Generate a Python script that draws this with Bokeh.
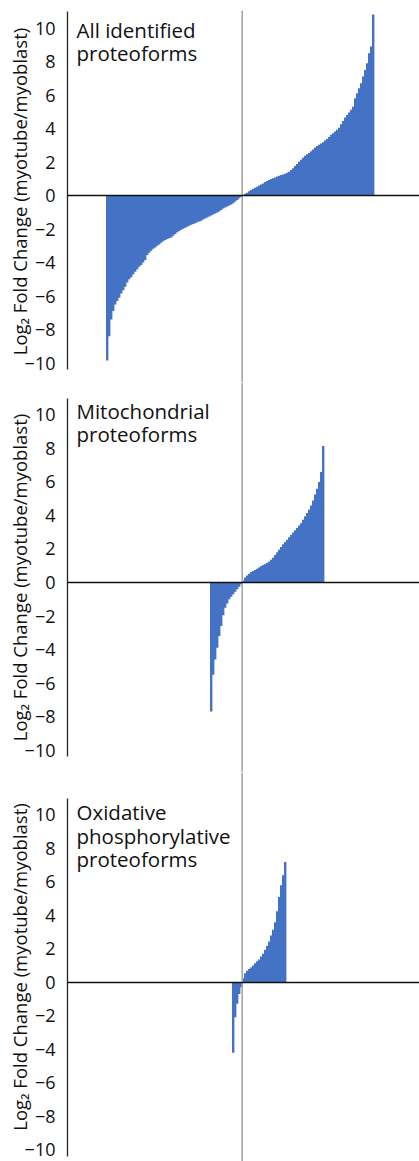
import numpy as np
from bokeh.plotting import figure
from bokeh.layouts import column
from bokeh.models import Span, Label, FixedTicker, Range1d, ColumnDataSource
from bokeh.embed import file_html
from bokeh.resources import INLINE

# ---------------- data (sorted log2 fold changes) ----------------
titles = [["All identified", "proteoforms"],
          ["Mitochondrial", "proteoforms"],
          ["Oxidative", "phosphorylative", "proteoforms"]]

all_neg = [-9.85, -8.4, -7.4, -6.9, -6.5, -6.3, -6.1, -5.85, -5.65, -5.45,
           -5.2, -5.0, -4.88, -4.7, -4.55, -4.4, -4.25, -4.15, -4.0, -3.85,
           -3.55, -3.42, -3.3, -3.18, -3.1, -3.0, -2.92, -2.82, -2.73, -2.65,
           -2.6, -2.55, -2.5, -2.4, -2.3, -2.2, -2.12, -2.05, -1.98, -1.92,
           -1.87, -1.8, -1.75, -1.7, -1.65, -1.6, -1.55, -1.5, -1.43, -1.38,
           -1.32, -1.25, -1.2, -1.14, -1.08, -1.02, -0.95, -0.86, -0.78, -0.72,
           -0.66, -0.6, -0.54, -0.46, -0.36, -0.27, -0.17, -0.07]
all_pos = [0.03, 0.1, 0.17, 0.25, 0.33, 0.4, 0.46, 0.53, 0.6, 0.66,
           0.72, 0.8, 0.86, 0.92, 0.98, 1.03, 1.08, 1.13, 1.18, 1.22,
           1.26, 1.3, 1.36, 1.42, 1.52, 1.62, 1.76, 1.88, 2.02, 2.14,
           2.26, 2.38, 2.46, 2.54, 2.64, 2.75, 2.86, 2.95, 3.03, 3.1,
           3.18, 3.28, 3.38, 3.5, 3.62, 3.72, 3.82, 3.92, 4.05, 4.25,
           4.45, 4.65, 4.8, 4.95, 5.12, 5.3, 5.8, 6.1, 6.4, 6.7,
           7.1, 7.5, 7.9, 8.5, 8.9, 10.8]

mito_neg = [-7.7, -5.5, -4.6, -3.9, -3.2, -2.6, -1.95, -1.5, -1.25, -1.0,
            -0.85, -0.7, -0.55, -0.4, -0.25, -0.1]
mito_pos = [0.12, 0.3, 0.42, 0.52, 0.62, 0.68, 0.75, 0.82, 0.9, 0.98,
            1.04, 1.1, 1.17, 1.25, 1.36, 1.48, 1.64, 1.8, 1.96, 2.12,
            2.28, 2.42, 2.55, 2.7, 2.84, 2.98, 3.12, 3.26, 3.4, 3.54,
            3.75, 3.95, 4.15, 4.35, 4.6, 4.9, 5.25, 5.6, 6.0, 6.6, 8.15]

oxphos_neg = [-4.2, -2.07, -1.27, -0.68, -0.28]
oxphos_pos = [0.25, 0.55, 0.7, 0.8, 0.9, 1.02, 1.15, 1.27, 1.38, 1.55,
              1.72, 1.95, 2.2, 2.45, 2.8, 3.15, 3.6, 4.25, 5.1, 5.8,
              6.4, 7.2]

y_ticks = [-10, -8, -6, -4, -2, 0, 2, 4, 6, 8, 10]
y_label = "Log\u2082 Fold Change (myotube/myoblast)"

# ---------------- styling / layout ----------------
FONT = "Open Sans"
BAR = "#4472C4"
GRAY = "#A6A6A6"
INK = "#111111"
W = 419
LEFT = 67
X_START = -87.35
X_END = X_START + (W - LEFT) / 2.0

panels = [
    # neg, pos, height, y_start, y_end, gray-line top, title baselines
    (all_neg, all_pos, 382, -11.164, 11.642, 11.05, [9.9, 8.5]),
    (mito_neg, mito_pos, 390, -11.343, 11.940, 11.940, [10.25, 8.85]),
    (oxphos_neg, oxphos_pos, 389, -10.687, 12.537, 12.537, [10.15, 8.76, 7.37]),
]

figs = []
for (neg, pos, h, y0, y1, gtop, tys), ttl in zip(panels, titles):
    vals = list(neg) + list(pos)
    xs = np.arange(-len(neg), len(pos)) + 0.5
    src = ColumnDataSource(dict(x=xs, top=vals))
    p = figure(width=W, height=h, output_backend="svg", toolbar_location=None,
               x_range=Range1d(X_START, X_END), y_range=Range1d(y0, y1),
               min_border_left=LEFT, min_border_right=0, min_border_top=0,
               min_border_bottom=0, x_axis_location=None)
    p.outline_line_color = None
    p.xgrid.visible = False
    p.ygrid.visible = False
    p.background_fill_color = "white"
    p.border_fill_color = "white"

    p.vbar(x="x", top="top", bottom=0, width=1.2, source=src,
           fill_color=BAR, line_color=None)

    p.add_layout(Span(location=0, dimension="width", line_color="#111111",
                      line_width=1.5))
    # vertical grey reference line at the zero crossing
    p.segment(x0=[0], y0=[y0 - 1], x1=[0], y1=[gtop], line_color=GRAY,
              line_width=1.6)

    ax = p.yaxis[0]
    ax.ticker = FixedTicker(ticks=y_ticks)
    ax.bounds = (-10.4, 11.0)
    ax.axis_line_color = "#222222"
    ax.axis_line_width = 1.3
    ax.major_tick_line_color = None
    ax.minor_tick_line_color = None
    ax.major_tick_out = 0
    ax.major_tick_in = 0
    ax.major_label_standoff = 12
    ax.major_label_text_font = FONT
    ax.major_label_text_font_size = "18px"
    ax.major_label_text_color = INK
    ax.axis_label = y_label
    ax.axis_label_text_font = FONT
    ax.axis_label_text_font_size = "18.5px"
    ax.axis_label_text_font_style = "normal"
    ax.axis_label_text_color = INK
    ax.axis_label_standoff = -10

    for line, ty in zip(ttl, tys):
        p.add_layout(Label(x=X_START + 4.5, y=ty, text=line, text_font=FONT,
                           text_font_size="20.5px", text_color=INK,
                           text_baseline="alphabetic", text_align="left"))
    figs.append(p)

layout = column(*figs, spacing=0)
open("out.html", "w").write(file_html(layout, INLINE))
